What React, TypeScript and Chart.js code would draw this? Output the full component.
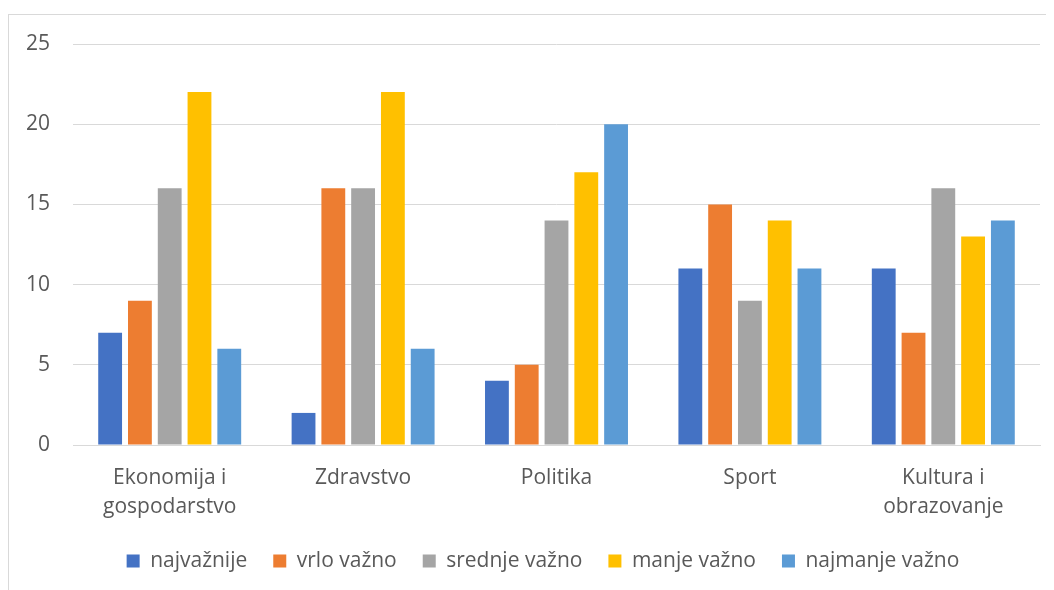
import React, { useEffect, useRef } from "react";
import { Chart, registerables } from "chart.js";

Chart.register(...registerables);

const categories: string[][] = [
  ["Ekonomija i", "gospodarstvo"],
  ["Zdravstvo"],
  ["Politika"],
  ["Sport"],
  ["Kultura i", "obrazovanje"],
];

const seriesNames = ["najvažnije", "vrlo važno", "srednje važno", "manje važno", "najmanje važno"];
const najvaznije = [7, 2, 4, 11, 11];
const vrloVazno = [9, 16, 5, 15, 7];
const srednjeVazno = [16, 16, 14, 9, 16];
const manjeVazno = [22, 22, 17, 14, 13];
const najmanjeVazno = [6, 6, 20, 11, 14];
const seriesColors = ["#4472C4", "#ED7D31", "#A5A5A5", "#FFC000", "#5B9BD5"];
const yTicksMax = 25;
const yTicksStep = 5;

const FONT = "'Segoe UI', 'Open Sans', 'Noto Sans', sans-serif";
const FS = 21;

const legendShift = {
  id: "legendShift",
  afterLayout(chart: any) {
    if (chart.legend) {
      chart.legend.left += 38;
    }
  },
};

export default function App() {
  const ref = useRef<HTMLCanvasElement | null>(null);
  useEffect(() => {
    if (!ref.current) return;
    const values = [najvaznije, vrloVazno, srednjeVazno, manjeVazno, najmanjeVazno];
    const chart = new Chart(ref.current, {
      type: "bar",
      data: {
        labels: categories,
        datasets: seriesNames.map((name, i) => ({
          label: name,
          data: values[i],
          backgroundColor: seriesColors[i],
          borderWidth: 0,
          categoryPercentage: 0.77,
          barPercentage: 0.8,
        })),
      },
      options: {
        animation: false,
        responsive: false,
        maintainAspectRatio: false,
        layout: { padding: { left: 0, right: 14, top: 36, bottom: 8.5 } },
        plugins: {
          tooltip: { enabled: false },
          legend: {
            position: "bottom",
            labels: {
              boxWidth: 13,
              boxHeight: 13,
              padding: 26,
              color: "#595959",
              font: { family: FONT, size: FS },
            },
          },
        },
        scales: {
          x: {
            afterFit: (scale: any) => {
              scale.height = 79.5;
            },
            grid: { display: false },
            border: { color: "#d9d9d9", width: 1 },
            ticks: {
              color: "#595959",
              font: { family: FONT, size: FS, lineHeight: 29 / FS },
              padding: 11,
              maxRotation: 0,
              autoSkip: false,
            },
          },
          y: {
            min: 0,
            max: yTicksMax,
            afterFit: (scale: any) => {
              scale.width = 65;
            },
            grid: { color: "#d9d9d9", drawTicks: false, lineWidth: 1 },
            border: { display: false },
            ticks: {
              stepSize: yTicksStep,
              color: "#595959",
              font: { family: FONT, size: FS },
              padding: 23,
            },
          },
        },
      },
      plugins: [legendShift],
    });
    return () => chart.destroy();
  }, []);

  return (
    <div style={{ position: "relative", width: 1046, height: 582, overflow: "hidden" }}>
      <div
        style={{
          position: "absolute",
          left: 0,
          top: 6,
          width: 1200,
          height: 800,
          border: "1.5px solid #d9d9d9",
          boxSizing: "border-box",
        }}
      />
      <canvas
        ref={ref}
        width={1046}
        height={582}
        style={{ position: "absolute", left: 0, top: 0, width: 1046, height: 582 }}
      />
    </div>
  );
}
